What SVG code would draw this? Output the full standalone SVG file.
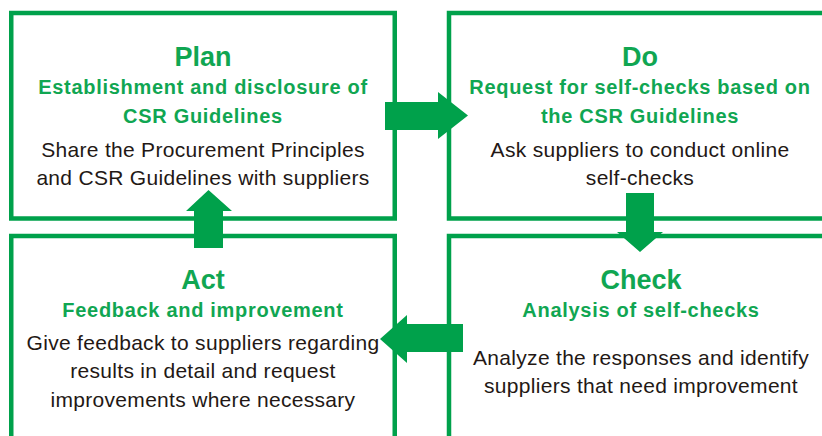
<svg xmlns="http://www.w3.org/2000/svg" width="822" height="436" viewBox="0 0 822 436">
<style>
.box{fill:#ffffff;stroke:#00a14b;stroke-width:4.5}
.arrow{fill:#00a14b}
text{font-family:"Liberation Sans",Arial,Helvetica,sans-serif;text-anchor:middle}
.title{font-size:27px;font-weight:bold;fill:#10a652}
.sub{font-size:20px;font-weight:bold;fill:#10a652;letter-spacing:0.7px}
.body{font-size:21px;fill:#231815;letter-spacing:0.3px}
</style>
<rect width="822" height="436" fill="#ffffff"/>
<g id="plan">
<rect class="box" x="11.25" y="13" width="383.5" height="205.5"/>
<text class="title" x="203" y="66">Plan</text>
<text class="sub" x="203" y="94">Establishment and disclosure of</text>
<text class="sub" x="203" y="123">CSR Guidelines</text>
<text class="body" x="203" y="157">Share the Procurement Principles</text>
<text class="body" x="203" y="185">and CSR Guidelines with suppliers</text>
</g>
<g id="do">
<rect class="box" x="449" y="13" width="400" height="205.5"/>
<text class="title" x="640" y="66">Do</text>
<text class="sub" x="640" y="94">Request for self-checks based on</text>
<text class="sub" x="640" y="123">the CSR Guidelines</text>
<text class="body" x="640" y="157">Ask suppliers to conduct online</text>
<text class="body" x="640" y="185">self-checks</text>
</g>
<g id="act">
<rect class="box" x="11.25" y="236" width="383.5" height="250"/>
<text class="title" x="203" y="289">Act</text>
<text class="sub" x="203" y="317">Feedback and improvement</text>
<text class="body" x="203" y="350">Give feedback to suppliers regarding</text>
<text class="body" x="203" y="378">results in detail and request</text>
<text class="body" x="203" y="407">improvements where necessary</text>
</g>
<g id="check">
<rect class="box" x="449" y="236" width="400" height="250"/>
<text class="title" x="641" y="289">Check</text>
<text class="sub" x="641" y="317">Analysis of self-checks</text>
<text class="body" x="641" y="365">Analyze the responses and identify</text>
<text class="body" x="641" y="393">suppliers that need improvement</text>
</g>
<g id="connectors">
<polygon class="arrow" points="385,102 438,102 438,92 468,115.5 438,139 438,130 385,130"/>
<polygon class="arrow" points="626,193 654,193 654,232 663,232 640,252 617,232 626,232"/>
<polygon class="arrow" points="463,324 407,324 407,315 380,339 407,363 407,352 463,352"/>
<polygon class="arrow" points="194,248 194,211 186,211 208.5,190 232,211 223,211 223,248"/>
</g>
</svg>
